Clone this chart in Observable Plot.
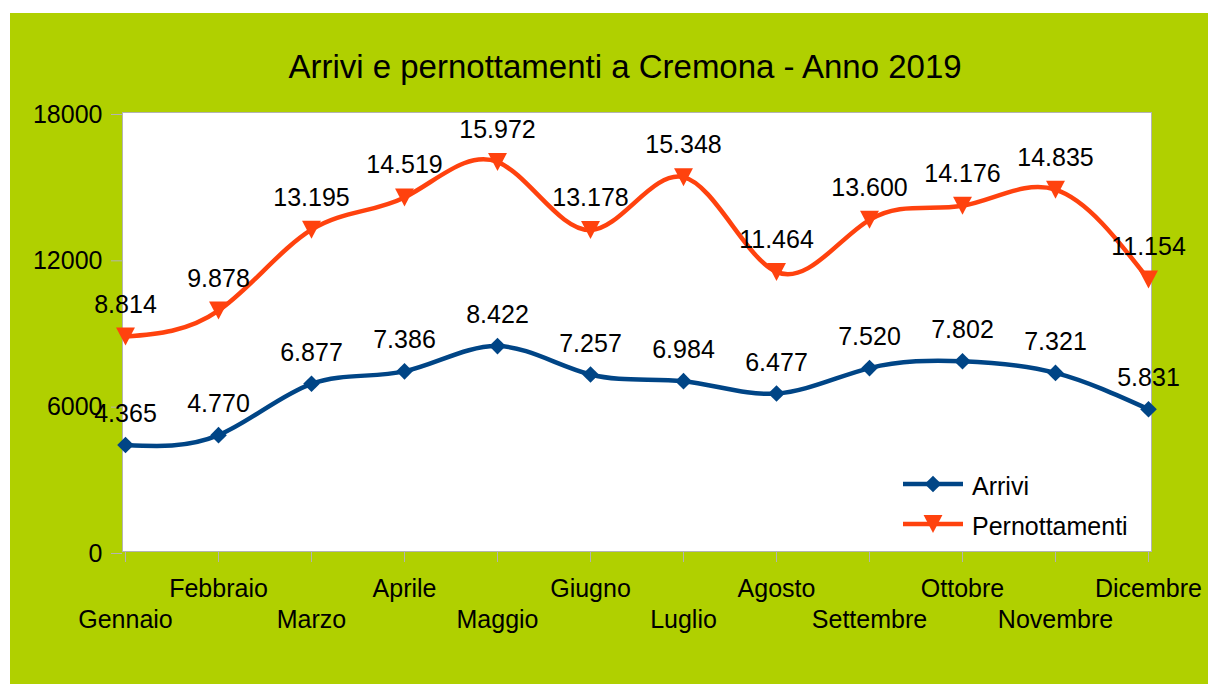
<!DOCTYPE html>
<html>
<head>
<meta charset="utf-8">
<script src="https://cdn.jsdelivr.net/npm/d3@7"></script>
<script src="https://cdn.jsdelivr.net/npm/@observablehq/plot@0.6"></script>
<style>
  html, body { margin: 0; padding: 0; background: #ffffff; }
  #wrap { position: relative; width: 1208px; height: 684px; overflow: hidden; font-family: "Liberation Sans", Arial, sans-serif; }
  #bg { position: absolute; left: 10px; top: 13px; right: 0; bottom: 0; background: #b0d000; }
  #chart { position: absolute; left: 0; top: 0; }
  #overlay { position: absolute; left: 0; top: 0; pointer-events: none; }
</style>
</head>
<body>
<div id="wrap">
  <div id="bg"></div>
  <div id="chart"></div>
  <svg id="overlay" width="1208" height="684"></svg>
</div>
<script>
const title = "Arrivi e pernottamenti a Cremona - Anno 2019";
const months = ["Gennaio", "Febbraio", "Marzo", "Aprile", "Maggio", "Giugno", "Luglio", "Agosto", "Settembre", "Ottobre", "Novembre", "Dicembre"];
const arrivi = [4365, 4770, 6877, 7386, 8422, 7257, 6984, 6477, 7520, 7802, 7321, 5831];
const pernottamenti = [8814, 9878, 13195, 14519, 15972, 13178, 15348, 11464, 13600, 14176, 14835, 11154];
const yTicks = [0, 6000, 12000, 18000];
const seriesNames = ["Arrivi", "Pernottamenti"];
const seriesColors = ["#004586", "#ff420e"];

const fmt = d3.formatLocale({decimal: ",", thousands: ".", grouping: [3], currency: ["", "€"]}).format(",");

const rowsA = months.map((m, i) => ({month: m, value: arrivi[i], series: seriesNames[0]}));
const rowsP = months.map((m, i) => ({month: m, value: pernottamenti[i], series: seriesNames[1]}));

const triangleDown = {
  draw(context, size) {
    const k = Math.sqrt(size / Math.PI);
    context.moveTo(-1.05 * k, -k);
    context.lineTo(1.05 * k, -k);
    context.lineTo(0, k);
    context.closePath();
  }
};

const gray = "#b3b3b3";
const FS = 25;

const chart = Plot.plot({
  width: 1208,
  height: 684,
  marginLeft: 122,
  marginRight: 57,
  marginTop: 112,
  marginBottom: 133,
  style: {background: "transparent", fontFamily: "'Liberation Sans', Arial, sans-serif", fontSize: FS + "px", color: "black", overflow: "visible"},
  x: {type: "point", domain: months, padding: 0},
  y: {domain: [0, 18000]},
  marks: [
    Plot.frame({fill: "white", stroke: gray}),
    Plot.axisY({ticks: yTicks, tickSize: 11, tickPadding: 9, tickFormat: d => String(d), stroke: gray, fill: "black", fontSize: FS, dy: 2, label: null}),
    Plot.axisX({tickSize: 11, tickFormat: () => "", stroke: gray, label: null}),
    Plot.text(months.filter((m, i) => i % 2 === 1), {x: d => d, frameAnchor: "bottom", dy: 37, lineAnchor: "middle", fontSize: FS, fill: "black"}),
    Plot.text(months.filter((m, i) => i % 2 === 0), {x: d => d, frameAnchor: "bottom", dy: 68, lineAnchor: "middle", fontSize: FS, fill: "black"}),
    Plot.line(rowsA, {x: "month", y: "value", stroke: seriesColors[0], strokeWidth: 4.5, curve: "natural"}),
    Plot.line(rowsP, {x: "month", y: "value", stroke: seriesColors[1], strokeWidth: 4.5, curve: "natural"}),
    Plot.dot(rowsA, {x: "month", y: "value", symbol: "diamond2", r: 7.5, fill: seriesColors[0], stroke: null}),
    Plot.dot(rowsP, {x: "month", y: "value", symbol: triangleDown, r: 9, fill: seriesColors[1], stroke: null}),
    Plot.text(rowsA, {x: "month", y: "value", text: d => fmt(d.value), dy: -23, lineAnchor: "bottom", fontSize: FS, fill: "black"}),
    Plot.text(rowsP, {x: "month", y: "value", text: d => fmt(d.value), dy: -24, lineAnchor: "bottom", fontSize: FS, fill: "black"})
  ]
});
document.getElementById("chart").appendChild(chart);

// Title and legend overlay
const ov = d3.select("#overlay");
ov.append("text")
  .attr("x", 625).attr("y", 78)
  .attr("text-anchor", "middle")
  .attr("font-family", "'Liberation Sans', Arial, sans-serif")
  .attr("font-size", 33)
  .attr("fill", "black")
  .text(title);

const legendY = [484, 524];
const symbolsLegend = [d3.symbol(d3.symbolDiamond2, Math.PI * 7.5 * 7.5)(), d3.symbol(triangleDown, Math.PI * 9 * 9)()];
seriesNames.forEach((name, i) => {
  const g = ov.append("g");
  g.append("line").attr("x1", 903).attr("x2", 963).attr("y1", legendY[i]).attr("y2", legendY[i])
    .attr("stroke", seriesColors[i]).attr("stroke-width", 4.5);
  g.append("path").attr("d", symbolsLegend[i]).attr("transform", `translate(933,${legendY[i]})`).attr("fill", seriesColors[i]);
  g.append("text").attr("x", 972).attr("y", legendY[i] + 11)
    .attr("font-family", "'Liberation Sans', Arial, sans-serif")
    .attr("font-size", FS).attr("fill", "black").text(name);
});
</script>
</body>
</html>
